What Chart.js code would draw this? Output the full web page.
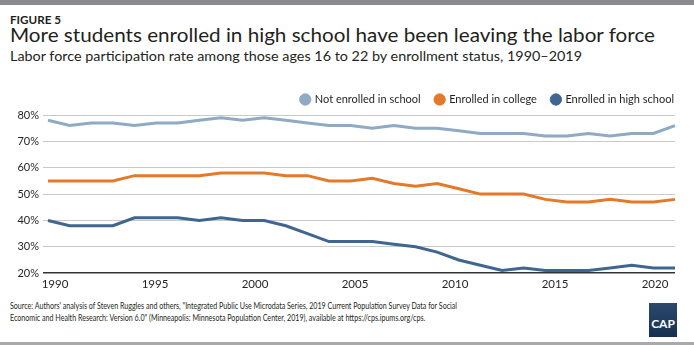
<!DOCTYPE html>
<html>
<head>
<meta charset="utf-8">
<script src="https://cdn.jsdelivr.net/npm/chart.js"></script>
<style>
  html, body { margin: 0; padding: 0; background: #fff; }
  #wrap { position: relative; width: 694px; height: 347px; overflow: hidden; font-family: Lato, "Open Sans", sans-serif; color: #231f20; }
  #topbar { position: absolute; left: 0; top: 0; width: 694px; height: 5px; background: #8b8b8f; }
  #bottombar { position: absolute; left: 0; top: 342px; width: 694px; height: 3px; background: #a9a9ad; }
  .txt { position: absolute; left: 10px; white-space: nowrap; line-height: 1.2; transform-origin: 0 0; }
  #fig { top: 13px; font-size: 11.5px; font-weight: bold; }
  #title { top: 23px; font-size: 19.5px; }
  #sub { top: 48px; font-size: 14px; }
  #src { top: 300px; font-size: 10.4px; line-height: 11.8px; }
  #logo { position: absolute; left: 649px; top: 303px; width: 28px; height: 34px; background: linear-gradient(#2c4a6e, #15304f); color: #fff; font: bold 12px Lato, sans-serif; text-align: center; line-height: 42px; }
  #chart { position: absolute; left: 0; top: 0; }
</style>
</head>
<body>
<div id="wrap">
  <div id="topbar"></div>
  <div class="txt" id="fig" data-w="51">FIGURE 5</div>
  <div class="txt" id="title" data-w="645">More students enrolled in high school have been leaving the labor force</div>
  <div class="txt" id="sub" data-w="572">Labor force participation rate among those ages 16 to 22 by enrollment status, 1990–2019</div>
  <canvas id="chart" width="694" height="295"></canvas>
  <div class="txt" id="src" data-w="447">Source: Authors' analysis of Steven Ruggles and others, "Integrated Public Use Microdata Series, 2019 Current Population Survey Data for Social<br>Economic and Health Research: Version 6.0" (Minneapolis: Minnesota Population Center, 2019), available at https://cps.ipums.org/cps.</div>
  <div id="logo">CAP</div>
  <div id="bottombar"></div>
</div>
<script>
// survey years, one point per year
const years = [1990, 1991, 1992, 1993, 1994, 1995, 1996, 1997, 1998, 1999,
               2000, 2001, 2002, 2003, 2004, 2005, 2006, 2007, 2008, 2009,
               2010, 2011, 2012, 2013, 2014, 2015, 2016, 2017, 2018, 2019];

const notEnrolled = [78, 76, 77, 77, 76, 77, 77, 78, 79, 78,
                     79, 78, 77, 76, 76, 75, 76, 75, 75, 74,
                     73, 73, 73, 72, 72, 73, 72, 73, 73, 76];
const college = [55, 55, 55, 55, 57, 57, 57, 57, 58, 58,
                 58, 57, 57, 55, 55, 56, 54, 53, 54, 52,
                 50, 50, 50, 48, 47, 47, 48, 47, 47, 48];
const highSchool = [40, 38, 38, 38, 41, 41, 41, 40, 41, 40,
                    40, 38, 35, 32, 32, 32, 31, 30, 28, 25,
                    23, 21, 22, 21, 21, 21, 22, 23, 22, 22];

const yTicks = [20, 30, 40, 50, 60, 70, 80];
const xTickLabels = [1990, 1995, 2000, 2005, 2010, 2015, 2020];

// squeeze the heading and source lines to their set widths
document.querySelectorAll('.txt').forEach(el => {
  const w = el.getBoundingClientRect().width;
  el.style.transform = 'scaleX(' + (el.dataset.w / w) + ')';
});

const fontFamily = 'Lato, "Open Sans", sans-serif';

new Chart(document.getElementById('chart'), {
  type: 'line',
  data: {
    labels: years,
    datasets: [
      { label: 'Not enrolled in school', data: notEnrolled, borderColor: '#8eaac4', backgroundColor: '#8eaac4' },
      { label: 'Enrolled in college', data: college, borderColor: '#e5792a', backgroundColor: '#e5792a' },
      { label: 'Enrolled in high school', data: highSchool, borderColor: '#3f6690', backgroundColor: '#3f6690' }
    ]
  },
  options: {
    responsive: false,
    animation: false,
    layout: { padding: { top: 79, right: 5, left: 0, bottom: 0 } },
    elements: {
      line: { borderWidth: 3, tension: 0 },
      point: { radius: 0 }
    },
    plugins: {
      tooltip: { enabled: false },
      legend: {
        align: 'end',
        labels: {
          usePointStyle: true,
          pointStyle: 'circle',
          boxWidth: 8,
          boxHeight: 8,
          padding: 15,
          color: '#231f20',
          font: { family: fontFamily, size: 11 }
        }
      }
    },
    scales: {
      x: {
        type: 'category',
        display: false,
        offset: false
      },
      years: {
        type: 'linear',
        position: 'bottom',
        min: 1989.65,
        max: 2021,
        afterBuildTicks: axis => { axis.ticks = xTickLabels.map(v => ({ value: v })); },
        grid: { display: false, drawTicks: false },
        border: { display: false },
        ticks: {
          color: '#231f20',
          padding: 4,
          maxRotation: 0,
          font: { family: fontFamily, size: 11.5 },
          callback: v => String(v)
        }
      },
      y: {
        min: 20,
        max: 80,
        afterBuildTicks: axis => { axis.ticks = yTicks.map(v => ({ value: v })); },
        afterFit: axis => { axis.width = 48; },
        border: { display: false },
        grid: {
          color: ctx => ctx.tick.value === 20 ? '#333333' : '#c9c9c9',
          lineWidth: ctx => ctx.tick.value === 20 ? 1.5 : 1,
          tickLength: 5
        },
        ticks: {
          color: '#231f20',
          padding: 4,
          font: { family: fontFamily, size: 11 },
          callback: v => v + '%'
        }
      },
      // empty strip on the right so the legend row ends flush with the plot
      edge: {
        type: 'linear',
        position: 'right',
        grid: { display: false, drawTicks: false },
        border: { display: false },
        ticks: { display: false },
        afterFit: axis => { axis.width = 14; }
      }
    }
  }
});
</script>
</body>
</html>
